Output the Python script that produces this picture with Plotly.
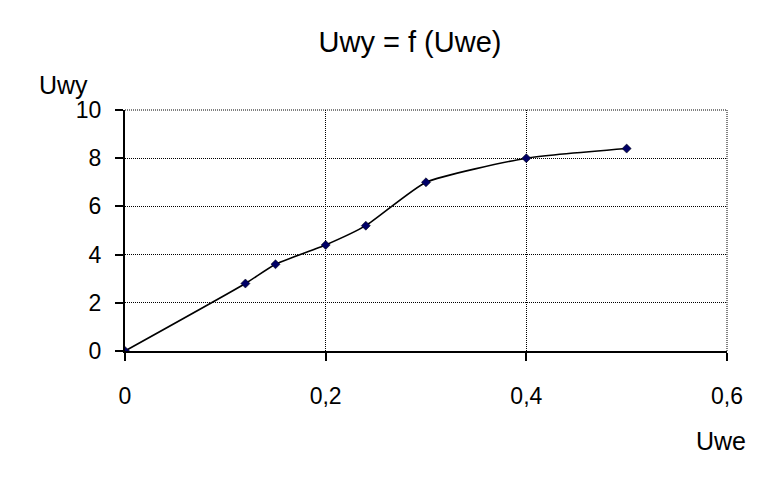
import plotly.graph_objects as go

uwe = [0, 0.12, 0.15, 0.2, 0.24, 0.3, 0.4, 0.5]
uwy = [0, 2.8, 3.6, 4.4, 5.2, 7.0, 8.0, 8.4]
x_ticks = [0, 0.2, 0.4, 0.6]
x_tick_labels = ["0", "0,2", "0,4", "0,6"]
y_ticks = [0, 2, 4, 6, 8, 10]

OFF = 8  # page body margin
W, H = 760 - OFF, 477 - OFF
# target page-pixel plot area: x 125..727, y 110..351
L, R, T, B = 125 - OFF, 760 - 727, 110 - OFF, 477 - 351
PW, PH = W - L - R, H - T - B

def px_x(page_x):
    return (page_x - 125) / PW

def px_y(page_y):
    return (351 - page_y) / PH

fig = go.Figure()
fig.add_trace(go.Scatter(
    x=uwe, y=uwy, mode="lines+markers",
    line=dict(color="black", width=1.6, shape="spline", smoothing=0.5),
    marker=dict(symbol="diamond", size=7, color="#000066", line=dict(color="black", width=0.5)),
    showlegend=False, hoverinfo="skip",
))

FAM = "Liberation Sans, Arial, sans-serif"
tick_font = dict(family=FAM, size=23, color="black")
label_font = dict(family=FAM, size=25, color="black")

fig.update_layout(
    width=W, height=H,
    margin=dict(l=L, r=R, t=T, b=B),
    paper_bgcolor="white", plot_bgcolor="white",
    font=tick_font,
    title=dict(text="Uwy = f (Uwe)", x=px_x(410), xref="paper", xanchor="center",
               y=1 - (42 - OFF) / H, yanchor="middle",
               font=dict(family=FAM, size=29, color="black")),
    xaxis=dict(range=[0, 0.6], tickvals=x_ticks, ticktext=x_tick_labels,
               tickfont=tick_font,
               showgrid=True, gridcolor="black", griddash="1px,1px", gridwidth=1,
               showline=True, linecolor="black", linewidth=2,
               ticks="outside", ticklen=8, tickcolor="black", tickwidth=2,
               zeroline=False, ticklabelstandoff=15),
    yaxis=dict(range=[0, 10], tickvals=y_ticks,
               tickfont=tick_font,
               showgrid=True, gridcolor="black", griddash="1px,1px", gridwidth=1,
               showline=True, linecolor="black", linewidth=2,
               ticks="outside", ticklen=8, tickcolor="black", tickwidth=2,
               zeroline=False, ticklabelstandoff=9),
    shapes=[
        dict(type="line", xref="paper", yref="paper", x0=1, x1=1, y0=0, y1=1,
             line=dict(color="black", width=1, dash="1px,1px")),
        dict(type="line", xref="paper", yref="paper", x0=0, x1=1, y0=1, y1=1,
             line=dict(color="black", width=1, dash="1px,1px")),
    ],
    annotations=[
        dict(text="Uwy", xref="paper", yref="paper", x=px_x(63), y=px_y(85),
             xanchor="center", yanchor="middle", showarrow=False, font=label_font),
        dict(text="Uwe", xref="paper", yref="paper", x=px_x(721), y=px_y(441),
             xanchor="center", yanchor="middle", showarrow=False, font=label_font),
    ],
)

fig.write_html("out.html", config={"displayModeBar": False})
